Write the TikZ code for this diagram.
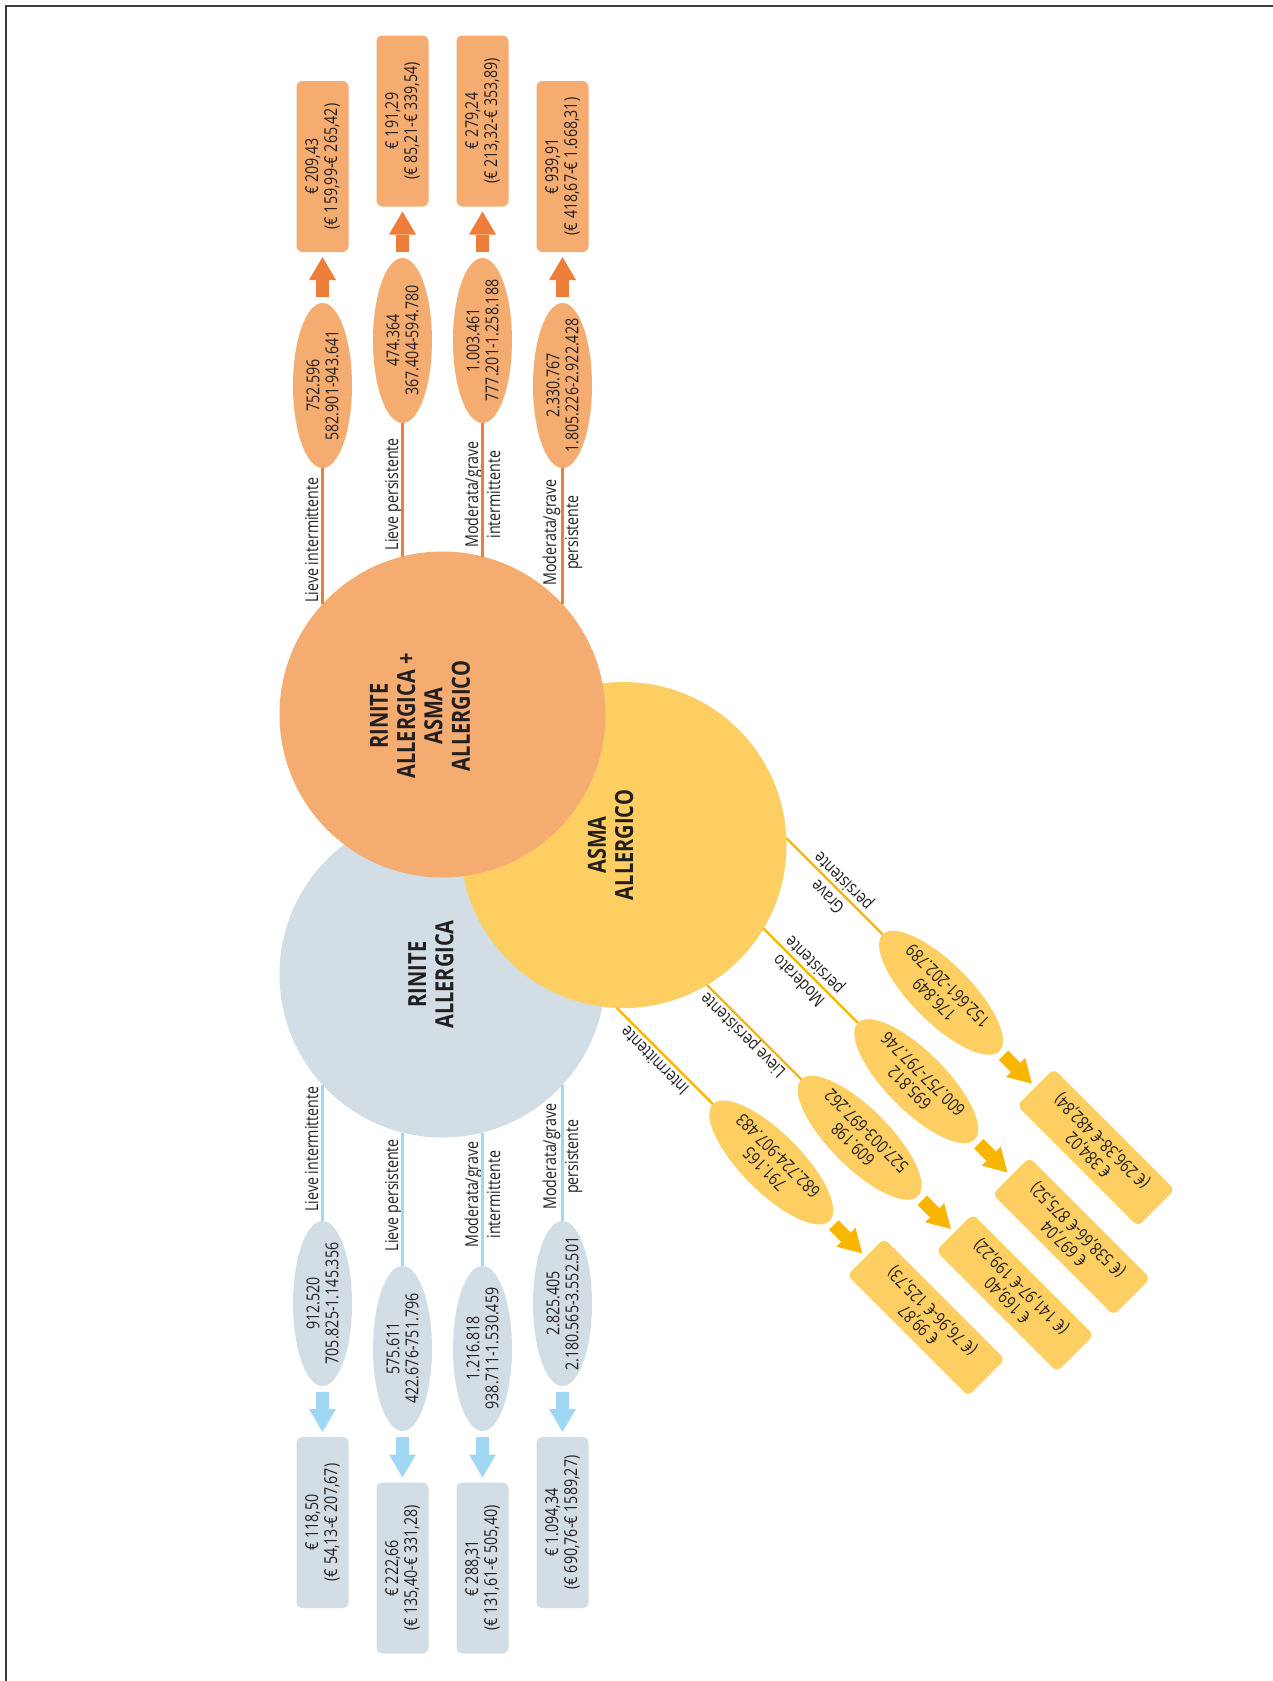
\documentclass[tikz,border=0pt]{standalone}
\usepackage{fontspec}
\setmainfont{Open Sans}[FakeStretch=0.8]
\usetikzlibrary{shapes.geometric,arrows.meta,calc}
\definecolor{orF}{RGB}{244,172,112}
\definecolor{orD}{RGB}{239,125,58}
\definecolor{grF}{RGB}{211,221,230}
\definecolor{blL}{RGB}{160,215,245}
\definecolor{yeF}{RGB}{253,206,97}
\definecolor{yeD}{RGB}{248,182,0}
\definecolor{txt}{RGB}{35,31,32}
\definecolor{frm}{RGB}{60,60,60}
\begin{document}
\begin{tikzpicture}[x=1pt,y=-1pt,
  every node/.style={inner sep=0pt, outer sep=0pt, text=txt},
  circ/.style={circle, minimum size=326pt, draw=none},
  ell/.style={ellipse, minimum width=165pt, minimum height=59pt, draw=none},
  valbox/.style={rectangle, rounded corners=6pt, minimum width=171pt, minimum height=52pt, draw=none},
  numtxt/.style={align=center, font=\fontsize{17.8}{19}\selectfont},
  lbltxt/.style={align=center, font=\fontsize{17.8}{22}\selectfont},
  bigtxt/.style={align=center, font=\bfseries\fontsize{25}{27.3}\selectfont},
  conn/.style={line width=2.3pt},
  blk/.style={line width=13.3pt, -{Triangle[width=27pt,length=23pt,line width=0pt]}, shorten <=6pt, shorten >=5pt},
]
\useasboundingbox (0,0) rectangle (1273,1681);
\fill[white] (0,0) rectangle (1273,1681);
\draw[line width=1.4pt, frm] (1273,6) -- (6,6) -- (6,1681);

% ---------- coordinates ----------
\begin{scope}[shift={(442.5,714.5)}]
\foreach \i/\o/\h/\e/\b/\l/\s in {1/-120/110.3/329/548/174.5/-4.5, 2/-40/158/374/593.5/220.5/-4.5, 3/40/158/374/593.5/220/0, 4/120/110.3/329/548/182/0}{
  \coordinate (tS\i) at (\o,-\h);
  \coordinate (tEc\i) at (\o,-\e);
  \coordinate (tBc\i) at (\o,-\b);
  \coordinate (tLc\i) at ({\o+(\s)},-\l);
}
\end{scope}
\begin{scope}[shift={(442.5,974.5)}, yscale=-1]
\foreach \i/\o/\h/\e/\b/\l/\s in {1/-120/110.3/329/548/174.5/-4.5, 2/-40/158/374/593.5/220.5/-4.5, 3/40/158/374/593.5/220/0, 4/120/110.3/329/548/182/0}{
  \coordinate (gS\i) at (\o,-\h);
  \coordinate (gEc\i) at (\o,-\e);
  \coordinate (gBc\i) at (\o,-\b);
  \coordinate (gLc\i) at ({\o+(\s)},-\l);
}
\end{scope}
\begin{scope}[shift={(623.5,845)}, rotate=-135]
\foreach \i/\o/\h/\e/\b/\l/\s in {1/-120/110.3/329/548/181/0, 2/-40/158/374/593.5/220/0, 3/40/158/374/593.5/219/4.5, 4/120/110.3/329/548/174.5/4.5}{
  \coordinate (yS\i) at (\o,-\h);
  \coordinate (yEc\i) at (\o,-\e);
  \coordinate (yBc\i) at (\o,-\b);
  \coordinate (yLc\i) at ({\o+(\s)},-\l);
}
\end{scope}

% ---------- circles ----------
\node[circ, fill=grF] (gC) at (442.5,974.5) {};
\node[circ, fill=yeF] (yC) at (623.5,845) {};
\node[circ, fill=orF] (oC) at (442.5,714.5) {};
\node[bigtxt, rotate=90] (oCt) at (420,716) {RINITE\\ALLERGICA +\\ASMA\\ALLERGICO};
\node[bigtxt, rotate=90] (yCt) at (610.5,845) {ASMA\\ALLERGICO};
\node[bigtxt, rotate=90] (gCt) at (431,974.5) {RINITE\\ALLERGICA};

% ---------- top (orange) ----------
\foreach \i in {1,...,4}{
  \node[ell, fill=orF, rotate=90] (tE\i) at (tEc\i) {};
}
\node[numtxt, rotate=90] (tN1) at (tEc1) {752.596\\582.901-943.641};
\node[numtxt, rotate=90] (tN2) at (tEc2) {474.364\\367.404-594.780};
\node[numtxt, rotate=90] (tN3) at (tEc3) {1.003.461\\777.201-1.258.188};
\node[numtxt, rotate=90] (tN4) at (tEc4) {2.330.767\\1.805.226-2.922.428};
\node[valbox, fill=orF, numtxt, rotate=90] (tB1) at (tBc1) {€ 209,43\\(€ 159,99-€ 265,42)};
\node[valbox, fill=orF, numtxt, rotate=90] (tB2) at (tBc2) {€ 191,29\\(€ 85,21-€ 339,54)};
\node[valbox, fill=orF, numtxt, rotate=90] (tB3) at (tBc3) {€ 279,24\\(€ 213,32-€ 353,89)};
\node[valbox, fill=orF, numtxt, rotate=90] (tB4) at (tBc4) {€ 939,91\\(€ 418,67-€ 1.668,31)};
\node[lbltxt, rotate=90, anchor=base] (tL1) at (tLc1) {Lieve intermittente};
\node[lbltxt, rotate=90, anchor=base] (tL2) at (tLc2) {Lieve persistente};
\node[lbltxt, rotate=90] (tL3) at (tLc3) {Moderata/grave\\intermittente};
\node[lbltxt, rotate=90] (tL4) at (tLc4) {Moderata/grave\\persistente};
\foreach \i in {1,...,4}{
  \draw[conn, color=orD] (tS\i) -- (tE\i);
  \draw[blk, color=orD] (tE\i) -- (tB\i);
}

% ---------- bottom (grey) ----------
\foreach \i in {1,...,4}{
  \node[ell, fill=grF, rotate=90] (gE\i) at (gEc\i) {};
}
\node[numtxt, rotate=90] (gN1) at (gEc1) {912.520\\705.825-1.145.356};
\node[numtxt, rotate=90] (gN2) at (gEc2) {575.611\\422.676-751.796};
\node[numtxt, rotate=90] (gN3) at (gEc3) {1.216.818\\938.711-1.530.459};
\node[numtxt, rotate=90] (gN4) at (gEc4) {2.825.405\\2.180.565-3.552.501};
\node[valbox, fill=grF, numtxt, rotate=90] (gB1) at (gBc1) {€ 118,50\\(€ 54,13-€ 207,67)};
\node[valbox, fill=grF, numtxt, rotate=90] (gB2) at (gBc2) {€ 222,66\\(€ 135,40-€ 331,28)};
\node[valbox, fill=grF, numtxt, rotate=90] (gB3) at (gBc3) {€ 288,31\\(€ 131,61-€ 505,40)};
\node[valbox, fill=grF, numtxt, rotate=90] (gB4) at (gBc4) {€ 1.094,34\\(€ 690,76-€ 1589,27)};
\node[lbltxt, rotate=90, anchor=base] (gL1) at (gLc1) {Lieve intermittente};
\node[lbltxt, rotate=90, anchor=base] (gL2) at (gLc2) {Lieve persistente};
\node[lbltxt, rotate=90] (gL3) at (gLc3) {Moderata/grave\\intermittente};
\node[lbltxt, rotate=90] (gL4) at (gLc4) {Moderata/grave\\persistente};
\foreach \i in {1,...,4}{
  \draw[conn, color=blL] (gS\i) -- (gE\i);
  \draw[blk, color=blL] (gE\i) -- (gB\i);
}

% ---------- diagonal (yellow) ----------
\foreach \i in {1,...,4}{
  \node[ell, fill=yeF, rotate=135] (yE\i) at (yEc\i) {};
}
\node[numtxt, rotate=135] (yN1) at (yEc1) {176.849\\152.661-202.789};
\node[numtxt, rotate=135] (yN2) at (yEc2) {695.812\\600.757-797.746};
\node[numtxt, rotate=135] (yN3) at (yEc3) {609.198\\527.003-697.262};
\node[numtxt, rotate=135] (yN4) at (yEc4) {791.165\\682.724-907.483};
\node[valbox, fill=yeF, numtxt, rotate=135] (yB1) at (yBc1) {€ 384,02\\(€ 296,38-€ 482,84)};
\node[valbox, fill=yeF, numtxt, rotate=135] (yB2) at (yBc2) {€ 697,04\\(€ 538,66-€ 875,52)};
\node[valbox, fill=yeF, numtxt, rotate=135] (yB3) at (yBc3) {€ 169,40\\(€ 141,97-€ 199,22)};
\node[valbox, fill=yeF, numtxt, rotate=135] (yB4) at (yBc4) {€ 99,87\\(€ 76,96-€ 125,73)};
\node[lbltxt, rotate=135] (yL1) at (yLc1) {Grave\\persistente};
\node[lbltxt, rotate=135] (yL2) at (yLc2) {Moderato\\persistente};
\node[lbltxt, rotate=135, anchor=base] (yL3) at (yLc3) {Lieve persistente};
\node[lbltxt, rotate=135, anchor=base] (yL4) at (yLc4) {Intermittente};
\foreach \i in {1,...,4}{
  \draw[conn, color=yeD] (yS\i) -- (yE\i);
  \draw[blk, color=yeD] (yE\i) -- (yB\i);
}
\end{tikzpicture}
\end{document}
